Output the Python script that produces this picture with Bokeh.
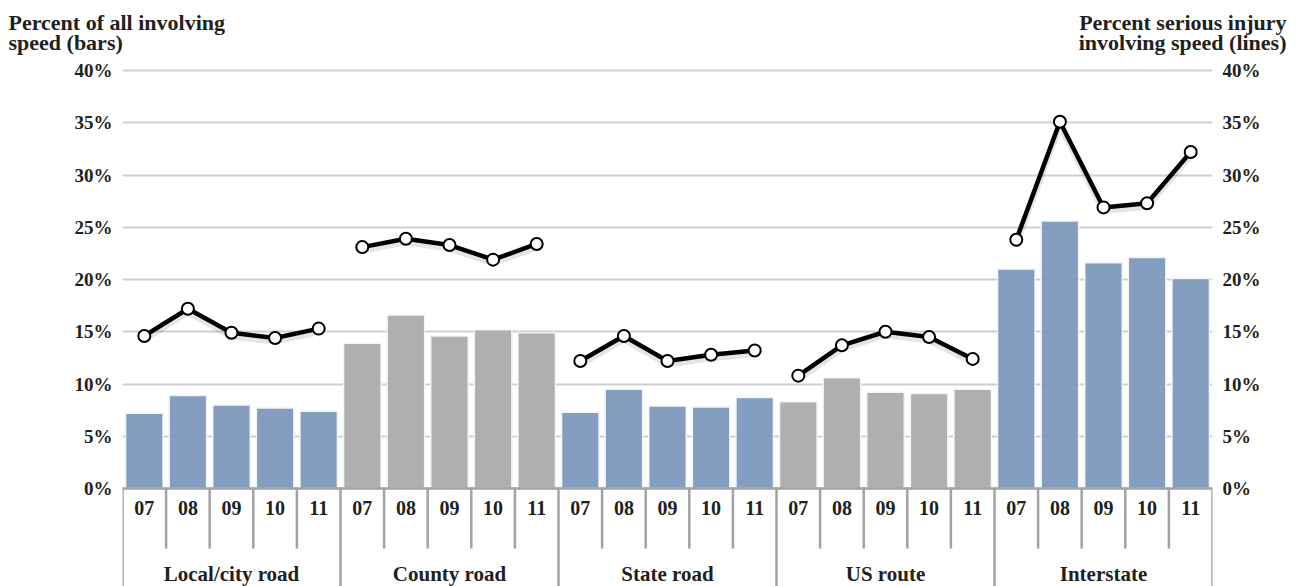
from bokeh.plotting import figure
from bokeh.layouts import column
from bokeh.models import ColumnDataSource, Range1d, FixedTicker, LinearAxis
from bokeh.core.properties import value
from bokeh.embed import file_html
from bokeh.resources import INLINE

groups = ["Local/city road", "County road", "State road", "US route", "Interstate"]
years = ["07", "08", "09", "10", "11"]

bars_local = [7.2, 8.9, 8.0, 7.7, 7.4]
bars_county = [13.9, 16.6, 14.6, 15.2, 14.9]
bars_state = [7.3, 9.5, 7.9, 7.8, 8.7]
bars_us = [8.3, 10.6, 9.2, 9.1, 9.5]
bars_inter = [21.0, 25.6, 21.6, 22.1, 20.1]

lines_local = [14.6, 17.2, 14.9, 14.4, 15.3]
lines_county = [23.1, 23.9, 23.3, 21.9, 23.4]
lines_state = [12.2, 14.6, 12.2, 12.8, 13.2]
lines_us = [10.8, 13.7, 15.0, 14.5, 12.4]
lines_inter = [23.8, 35.1, 26.9, 27.3, 32.2]

y_ticks = [0, 5, 10, 15, 20, 25, 30, 35, 40]
tick_labels = {t: f"{t}%" for t in y_ticks}

left_title = ["Percent of all involving", "speed (bars)"]
right_title = ["Percent serious injury", "involving speed (lines)"]

bar_series = [bars_local, bars_county, bars_state, bars_us, bars_inter]
line_series = [lines_local, lines_county, lines_state, lines_us, lines_inter]
BLUE = "#7b97bd"
GRAY = "#a9a9a9"
group_colors = [BLUE, GRAY, BLUE, GRAY, BLUE]

FONT = value("Liberation Serif")
TXT = "#231f20"

W = 1295
HEAD_H = 56
MAIN_H = 586 - HEAD_H

# ---- header with the two axis titles ----
head = figure(width=W, height=HEAD_H, output_backend="svg", toolbar_location=None,
              x_range=Range1d(0, W), y_range=Range1d(0, HEAD_H),
              min_border=0, outline_line_color=None, frame_align=False,
              x_axis_location=None, y_axis_location=None)
head.grid.visible = False
head.text(x=[8, 8], y=[34, 14], text=left_title, text_font=FONT, text_font_style="bold",
          text_font_size="22px", text_align="left", text_baseline="middle", text_color=TXT)
head.text(x=[1286, 1286], y=[34, 14], text=right_title, text_font=FONT, text_font_style="bold",
          text_font_size="22px", text_align="right", text_baseline="middle", text_color=TXT)

# ---- main chart ----
p = figure(width=W, height=MAIN_H, output_backend="svg", toolbar_location=None,
           x_range=Range1d(0, 25), y_range=Range1d(-9.378, 41.34),
           min_border_left=122, min_border_right=83, min_border_top=0, min_border_bottom=0,
           outline_line_color=None, background_fill_color="white", border_fill_color="white",
           frame_align=False, y_axis_location=None, x_axis_location=None)

p.xgrid.visible = False
p.ygrid.ticker = FixedTicker(ticks=y_ticks)
p.ygrid.grid_line_color = "#cfcfcf"
p.ygrid.grid_line_width = 2

for side in ("left", "right"):
    ax = LinearAxis(ticker=FixedTicker(ticks=y_ticks),
                    major_label_overrides=tick_labels,
                    axis_line_color=None, major_tick_line_color=None, minor_tick_line_color=None,
                    major_tick_out=0, major_tick_in=0, major_label_standoff=10,
                    major_label_text_font="Liberation Serif",
                    major_label_text_font_style="bold",
                    major_label_text_font_size="19px",
                    major_label_text_color=TXT)
    p.add_layout(ax, side)

# bars
xs, tops, cols = [], [], []
for gi, vals in enumerate(bar_series):
    for yi, v in enumerate(vals):
        xs.append(gi * 5 + yi + 0.5)
        tops.append(v)
        cols.append(group_colors[gi])
p.vbar(x="x", top="top", bottom=0, width=0.86, fill_color="c", fill_alpha=0.93,
       line_color="#f4f4f4", line_width=1.5,
       source=ColumnDataSource(dict(x=xs, top=tops, c=cols)))

# lines
for gi, vals in enumerate(line_series):
    lx = [gi * 5 + yi + 0.5 for yi in range(len(vals))]
    p.line(lx, [v - 0.3 for v in vals], line_color="#000000", line_alpha=0.1, line_width=7)
    p.line(lx, vals, line_color="black", line_width=4.5)
    p.scatter(lx, vals, size=12, fill_color="white", line_color="black", line_width=2)

# category axis: baseline, separators, labels
AX = "#a3a3a3"
p.segment(x0=[0], y0=[0], x1=[25], y1=[0], line_color=AX, line_width=2.5)
sx, sy1 = [], []
for k in range(26):
    sx.append(k)
    sy1.append(-9.378 if k % 5 == 0 else -5.74)
p.segment(x0=sx, y0=[0] * len(sx), x1=sx, y1=sy1, line_color=AX, line_width=2.5)

yl_x, yl_t = [], []
for gi in range(len(groups)):
    for yi, y in enumerate(years):
        yl_x.append(gi * 5 + yi + 0.5)
        yl_t.append(y)
p.text(x=yl_x, y=[-1.82] * len(yl_x), text=yl_t, text_font=FONT, text_font_style="bold",
       text_font_size="20px", text_align="center", text_baseline="middle", text_color=TXT)
p.text(x=[gi * 5 + 2.5 for gi in range(len(groups))], y=[-8.15] * len(groups), text=groups,
       text_font=FONT, text_font_style="bold", text_font_size="21px",
       text_align="center", text_baseline="middle", text_color=TXT)

layout = column(head, p, spacing=0)
open("out.html", "w").write(file_html(layout, INLINE))
